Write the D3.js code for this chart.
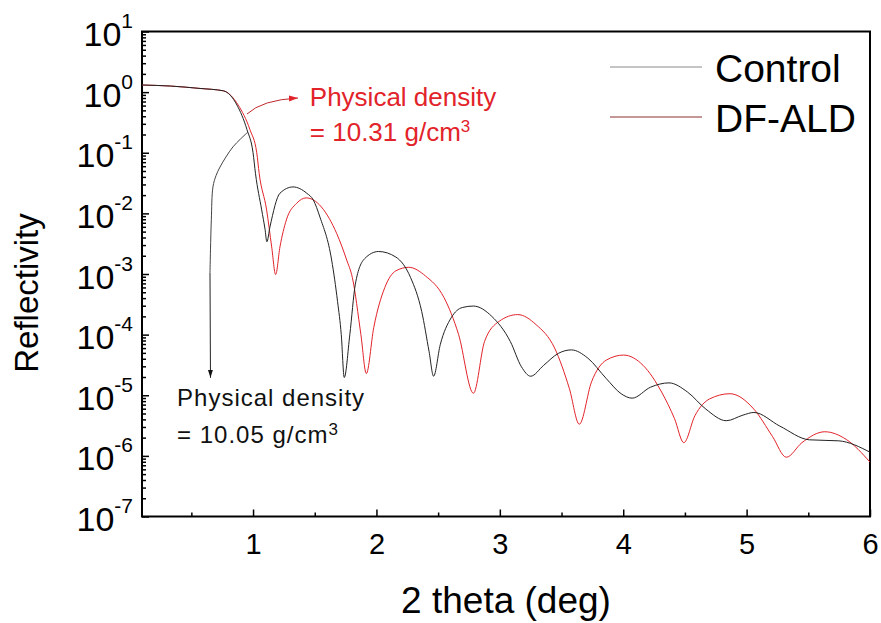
<!DOCTYPE html>
<html>
<head>
<meta charset="utf-8">
<script src="https://cdn.jsdelivr.net/npm/d3@7"></script>
<style>
  body { margin: 0; background: #fff; }
  text { font-family: "Liberation Sans", Arial, sans-serif; }
</style>
</head>
<body>
<div id="chart"></div>
<script>
// Control (black)
const controlTheta = [0.10, 0.33, 0.57, 0.76, 0.87, 0.951, 1.0, 1.02, 1.07, 1.097, 1.112, 1.137, 1.218, 1.324, 1.435, 1.488, 1.542, 1.637, 1.685, 1.715, 1.739, 1.784, 1.829, 1.903, 2.017, 2.158, 2.277, 2.367, 2.427, 2.463, 2.517, 2.606, 2.696, 2.786, 2.935, 3.085, 3.175, 3.250, 3.354, 3.474, 3.579, 3.713, 3.863, 3.983, 4.072, 4.222, 4.371, 4.521, 4.670, 4.835, 4.970, 5.059, 5.269, 5.508, 5.747, 6.0];
const controlR = [1.31, 1.26, 1.15, 1.05, 0.61, 0.24, 0.1, 0.045, 0.0114, 5.5e-3, 3.4e-3, 6e-3, 0.0215, 0.0273, 0.0215, 0.0167, 8.7e-3, 1.7e-3, 3.5e-4, 1e-4, 1.96e-5, 9.9e-5, 6.8e-4, 1.78e-3, 2.35e-3, 1.9e-3, 8.7e-4, 2.4e-4, 5.2e-5, 2.06e-5, 6.8e-5, 1.9e-4, 2.8e-4, 2.96e-4, 2.0e-4, 7.7e-5, 2.95e-5, 2.06e-5, 3.1e-5, 4.9e-5, 5.6e-5, 4.1e-5, 1.88e-5, 1.06e-5, 8.95e-6, 1.36e-5, 1.6e-5, 1.13e-5, 5.9e-6, 3.8e-6, 4.7e-6, 5.2e-6, 3.1e-6, 1.84e-6, 1.77e-6, 1.15e-6];
// short rising branch of the control curve
const branchTheta = [0.651, 0.655, 0.662, 0.675, 0.70, 0.732, 0.78, 0.837, 0.90, 0.959];
const branchR = [1.04e-3, 2.5e-3, 8e-3, 0.0273, 0.042, 0.058, 0.085, 0.125, 0.17, 0.22];

// DF-ALD (red)
const aldTheta = [0.10, 0.33, 0.57, 0.76, 0.88, 0.975, 1.03, 1.05, 1.11, 1.151, 1.183, 1.218, 1.27, 1.354, 1.43, 1.679, 1.759, 1.805, 1.874, 1.918, 1.978, 2.068, 2.158, 2.262, 2.397, 2.547, 2.666, 2.786, 2.876, 2.995, 3.145, 3.294, 3.444, 3.564, 3.644, 3.743, 3.863, 4.003, 4.162, 4.311, 4.416, 4.491, 4.581, 4.700, 4.865, 5.059, 5.209, 5.322, 5.448, 5.634, 5.807, 6.0];
const aldR = [1.31, 1.26, 1.15, 1.05, 0.61, 0.24, 0.1, 0.045, 0.0114, 2.8e-3, 9.8e-4, 2.8e-3, 7.8e-3, 0.0147, 0.018, 4.6e-3, 1.7e-3, 8.7e-4, 1e-4, 2.28e-5, 1.3e-4, 6e-4, 1.13e-3, 1.29e-3, 9.3e-4, 4.1e-4, 1e-4, 1.08e-5, 7.7e-5, 1.66e-4, 2.14e-4, 1.46e-4, 6e-5, 1.28e-5, 3.33e-6, 1.66e-5, 3.8e-5, 4.6e-5, 3.1e-5, 1.13e-5, 4.1e-6, 1.65e-6, 4.6e-6, 8.7e-6, 1.06e-5, 5.9e-6, 2.1e-6, 9.5e-7, 1.65e-6, 2.5e-6, 1.87e-6, 7.9e-7];

const xTicks = [1, 2, 3, 4, 5, 6];
const xMinorTicks = [0.5, 1.5, 2.5, 3.5, 4.5, 5.5];
const yExponents = [1, 0, -1, -2, -3, -4, -5, -6, -7];
const legendLabels = ['Control', 'DF-ALD'];

// svg領域設定
const svgWidth = 881;
const svgHeight = 623;
const svg = d3.select('#chart')
  .append('svg')
  .attr('width', svgWidth)
  .attr('height', svgHeight);

const plotLeft = 142, plotRight = 870, plotTop = 31.5, plotBottom = 516.5;

// scale設定
const x = d3.scaleLinear().domain([0.1, 6]).range([plotLeft, plotRight]);
const y = d3.scaleLog().domain([1e-7, 10]).range([plotBottom, plotTop]);

const red = '#e2232a';

// markers
const defs = svg.append('defs');
defs.append('marker')
  .attr('id', 'arrRed')
  .attr('markerUnits', 'userSpaceOnUse')
  .attr('markerWidth', 10).attr('markerHeight', 8)
  .attr('refX', 9).attr('refY', 3)
  .attr('orient', 'auto')
  .append('path').attr('d', 'M0,0L9,3L0,6Z').attr('fill', red);
defs.append('marker')
  .attr('id', 'arrBlack')
  .attr('markerUnits', 'userSpaceOnUse')
  .attr('markerWidth', 10).attr('markerHeight', 8)
  .attr('refX', 8).attr('refY', 2.5)
  .attr('orient', 'auto')
  .append('path').attr('d', 'M0,0L8,2.5L0,5Z').attr('fill', '#111');

// x axis
const xAxis = svg.append('g')
  .attr('transform', `translate(0,${plotBottom})`)
  .call(d3.axisBottom(x).tickValues(xTicks).tickFormat(d3.format('d')).tickSize(-7).tickPadding(16.5));
svg.append('g')
  .attr('transform', `translate(0,${plotBottom})`)
  .call(d3.axisBottom(x).tickValues(xMinorTicks).tickSize(-4).tickFormat(''));

// y axis
const yMinor = [];
yExponents.slice(1).forEach(e => {
  for (let k = 2; k <= 9; k++) yMinor.push(k * Math.pow(10, e));
});
const yAxis = svg.append('g')
  .attr('transform', `translate(${plotLeft},0)`)
  .call(d3.axisLeft(y).tickValues(yExponents.map(e => Math.pow(10, e))).tickSize(-7).tickPadding(9));
svg.append('g')
  .attr('transform', `translate(${plotLeft},0)`)
  .call(d3.axisLeft(y).tickValues(yMinor).tickSize(-4).tickFormat(''));

svg.selectAll('.domain').remove();
svg.selectAll('.tick line').attr('stroke', '#000').attr('stroke-width', 1.5);

xAxis.selectAll('text')
  .attr('font-size', 29)
  .attr('fill', '#000')
  .style('font-family', '"Liberation Sans", Arial, sans-serif');

yAxis.selectAll('.tick text')
  .attr('dy', null)
  .attr('y', 14)
  .attr('fill', '#000')
  .style('font-family', '"Liberation Sans", Arial, sans-serif')
  .each(function(d, i) {
    const t = d3.select(this).text('');
    t.append('tspan').attr('font-size', 34).text('10');
    t.append('tspan').attr('font-size', 21).attr('dy', -18).text(yExponents[i]);
  });

// frame
svg.append('rect')
  .attr('x', plotLeft).attr('y', plotTop)
  .attr('width', plotRight - plotLeft).attr('height', plotBottom - plotTop)
  .attr('fill', 'none').attr('stroke', '#000').attr('stroke-width', 2);

// lines
const line = d3.line()
  .x(d => x(d[0]))
  .y(d => y(d[1]))
  .curve(d3.curveMonotoneX);

const zip = (a, b) => a.map((v, i) => [v, b[i]]);

svg.append('path')
  .attr('d', line(zip(aldTheta, aldR)))
  .attr('fill', 'none').attr('stroke', red).attr('stroke-width', 1);
svg.append('path')
  .attr('d', line(zip(controlTheta, controlR)))
  .attr('fill', 'none').attr('stroke', '#222').attr('stroke-width', 1);
svg.append('path')
  .attr('d', d3.line().x(d => x(d[0])).y(d => y(d[1])).curve(d3.curveCatmullRom.alpha(0.5))(zip(branchTheta, branchR)))
  .attr('fill', 'none').attr('stroke', '#444').attr('stroke-width', 1);

// annotation arrows
svg.append('path')
  .attr('d', `M${x(0.951)},${y(0.436)}Q${x(1.072)},${y(0.743)} ${x(1.364)},${y(0.80)}`)
  .attr('fill', 'none').attr('stroke', '#c0292c').attr('stroke-width', 1)
  .attr('marker-end', 'url(#arrRed)');
svg.append('line')
  .attr('x1', x(0.651)).attr('y1', y(1.04e-3))
  .attr('x2', x(0.655)).attr('y2', y(1.94e-5))
  .attr('stroke', '#222').attr('stroke-width', 1)
  .attr('marker-end', 'url(#arrBlack)');

// annotation texts
const redNote = svg.append('g')
  .attr('transform', `translate(${x(1.46)},${y(0.59)})`)
  .attr('fill', red)
  .attr('font-size', 26);
redNote.append('text').text('Physical density');
const r2 = redNote.append('text').attr('y', 35);
r2.append('tspan').text('= 10.31 g/cm');
r2.append('tspan').attr('font-size', 17).attr('dy', -9).text('3');

const blackNote = svg.append('g')
  .attr('transform', `translate(${x(0.384)},${y(6.7e-6)})`)
  .attr('fill', '#111')
  .attr('font-size', 24)
  .attr('letter-spacing', 1);
blackNote.append('text').text('Physical density');
const b2 = blackNote.append('text').attr('y', 37);
b2.append('tspan').text('= 10.05 g/cm');
b2.append('tspan').attr('font-size', 17).attr('dy', -8).text('3');

// axis titles
svg.append('text')
  .attr('x', (plotLeft + plotRight) / 2).attr('y', 613)
  .attr('text-anchor', 'middle')
  .attr('font-size', 37)
  .text('2 theta (deg)');
svg.append('text')
  .attr('transform', 'translate(38,293) rotate(-90)')
  .attr('text-anchor', 'middle')
  .attr('font-size', 33)
  .text('Reflectivity');

// legend
const legendColors = ['#8a8a8a', '#8b3030'];
const legend = svg.append('g');
legendLabels.forEach((name, i) => {
  const ly = 67 + i * 50;
  legend.append('line')
    .attr('x1', 610).attr('x2', 702)
    .attr('y1', ly).attr('y2', ly)
    .attr('stroke', legendColors[i]).attr('stroke-width', 1);
  legend.append('text')
    .attr('x', 715).attr('y', ly + 15)
    .attr('font-size', 39)
    .text(name);
});
</script>
</body>
</html>
